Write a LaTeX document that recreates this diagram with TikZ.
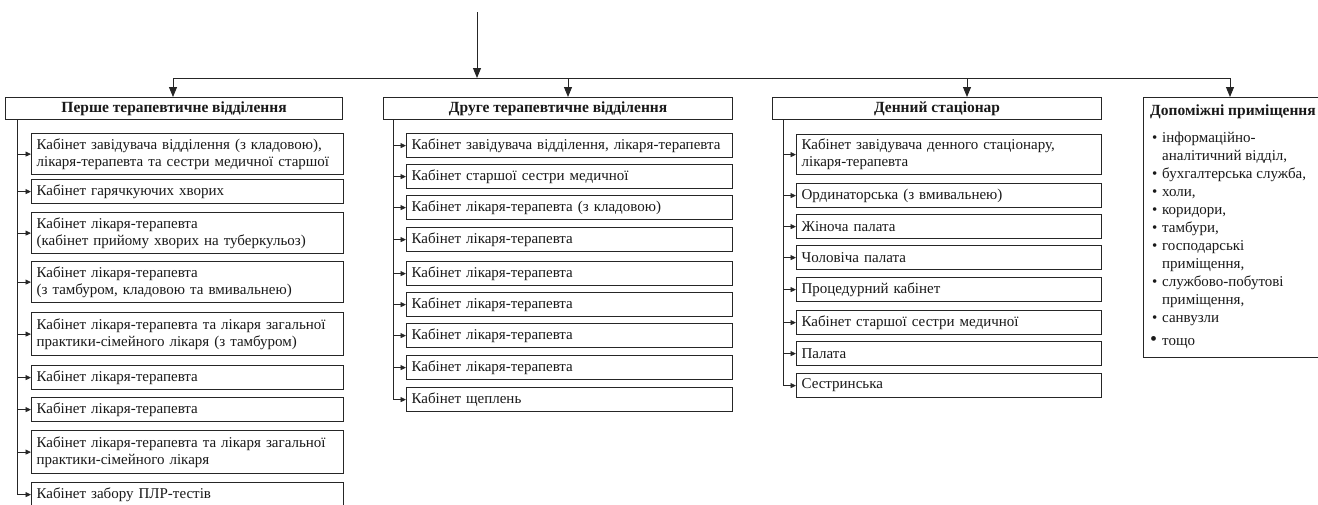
\documentclass[tikz,border=0pt]{standalone}
\usepackage{fontspec}
\setmainfont{Liberation Serif}
\usetikzlibrary{arrows.meta}
\tikzset{
  ln/.style={draw=black!85, line width=0.9pt},
  hdr/.style={draw=black!85, line width=1.2pt, anchor=north west, inner sep=0pt, minimum height=22pt, font=\bfseries\fontsize{15.5}{17}\selectfont, text=black!90},
  room/.style={draw=black!85, line width=1.2pt, anchor=north west, inner xsep=5pt, inner ysep=0pt, align=left, font=\fontsize{15}{17}\selectfont, text=black!90},
  colA/.style={room, text width=302pt},
  colB/.style={room, text width=316pt},
  colC/.style={room, text width=295pt},
  one/.style={minimum height=24pt},
  two/.style={minimum height=41pt},
  bigarr/.style={ln, -{Triangle[length=10pt,width=8pt]}},
  smallarr/.style={ln, line width=0.8pt, -{Triangle[length=5.5pt,width=5pt]}},
  lst/.style={anchor=base west, inner sep=0pt, font=\fontsize{15}{17}\selectfont, text=black!90},
}
\newcommand\bul{\makebox[10pt][l]{•}}
\begin{document}
\begin{tikzpicture}[x=1pt,y=-1pt]
\useasboundingbox (0,0) rectangle (1318,504);
\fill[white] (0,0) rectangle (1318,504);

\coordinate (top) at (477,12);
\coordinate (hl) at (477,78);
\coordinate (a1) at (173,78);
\coordinate (a2) at (568,78);
\coordinate (a3) at (967,78);
\coordinate (a4) at (1230,78);

\node[hdr, minimum width=337pt] (h1) at (5,97) {Перше терапевтичне відділення};
\node[hdr, minimum width=349pt] (h2) at (383,97) {Друге терапевтичне відділення};
\node[hdr, minimum width=329pt] (h3) at (772,97) {Денний стаціонар};
\node[draw=black!85, line width=1.2pt, anchor=north west, minimum width=190pt, minimum height=260pt, inner sep=0pt] (h4) at (1143,97) {};

\draw[bigarr] (top) -- (hl);
\draw[ln] (a1) -- (a4);
\foreach \a/\h in {a1/h1,a2/h2,a3/h3,a4/h4} \draw[bigarr] (\a) -- (\a |- \h.north);

% column 1
\node[colA, two] (r11) at (31,133) {Кабінет завідувача відділення (з кладовою),\\лікаря-терапевта та сестри медичної старшої};
\node[colA, one] (r12) at (31,179) {Кабінет гарячкуючих хворих};
\node[colA, two] (r13) at (31,212) {Кабінет лікаря-терапевта\\(кабінет прийому хворих на туберкульоз)};
\node[colA, two] (r14) at (31,261) {Кабінет лікаря-терапевта\\(з тамбуром, кладовою та вмивальнею)};
\node[colA, minimum height=43pt] (r15) at (31,312) {Кабінет лікаря-терапевта та лікаря загальної\\практики-сімейного лікаря (з тамбуром)};
\node[colA, one] (r16) at (31,365) {Кабінет лікаря-терапевта};
\node[colA, one] (r17) at (31,397) {Кабінет лікаря-терапевта};
\node[colA, minimum height=43pt] (r18) at (31,430) {Кабінет лікаря-терапевта та лікаря загальної\\практики-сімейного лікаря};
\node[colA, one] (r19) at (31,482) {Кабінет забору ПЛР-тестів};
\coordinate (t1) at (17,119);
\draw[smallarr] (t1) |- (r19.west);
\foreach \r in {r11,r12,r13,r14,r15,r16,r17,r18} \draw[smallarr] (t1 |- \r.west) -- (\r.west);

% column 2
\node[colB, one] (r21) at (406,133) {Кабінет завідувача відділення, лікаря-терапевта};
\node[colB, one] (r22) at (406,164) {Кабінет старшої сестри медичної};
\node[colB, one] (r23) at (406,195) {Кабінет лікаря-терапевта (з кладовою)};
\node[colB, one] (r24) at (406,227) {Кабінет лікаря-терапевта};
\node[colB, one] (r25) at (406,261) {Кабінет лікаря-терапевта};
\node[colB, one] (r26) at (406,292) {Кабінет лікаря-терапевта};
\node[colB, one] (r27) at (406,323) {Кабінет лікаря-терапевта};
\node[colB, one] (r28) at (406,355) {Кабінет лікаря-терапевта};
\node[colB, one] (r29) at (406,387) {Кабінет щеплень};
\coordinate (t2) at (393,119);
\draw[smallarr] (t2) |- (r29.west);
\foreach \r in {r21,r22,r23,r24,r25,r26,r27,r28} \draw[smallarr] (t2 |- \r.west) -- (\r.west);

% column 3
\node[colC, minimum height=40pt] (r31) at (796,134) {Кабінет завідувача денного стаціонару,\\лікаря-терапевта};
\node[colC, one] (r32) at (796,183) {Ординаторська (з вмивальнею)};
\node[colC, one] (r33) at (796,214) {Жіноча палата};
\node[colC, one] (r34) at (796,245) {Чоловіча палата};
\node[colC, one] (r35) at (796,277) {Процедурний кабінет};
\node[colC, one] (r36) at (796,310) {Кабінет старшої сестри медичної};
\node[colC, one] (r37) at (796,341) {Палата};
\node[colC, one] (r38) at (796,373) {Сестринська};
\coordinate (t3) at (783,119);
\draw[smallarr] (t3) |- (r38.west);
\foreach \r in {r31,r32,r33,r34,r35,r36,r37} \draw[smallarr] (t3 |- \r.west) -- (\r.west);

% column 4
\node[lst, font=\bfseries\fontsize{15.5}{17}\selectfont] (d0) at (1150,115) {Допоміжні приміщення};
\node[lst] (d1) at (1152,142.5) {\bul інформаційно-};
\node[lst] (d2) at (1162,160.5) {аналітичний відділ,};
\node[lst] (d3) at (1152,178.5) {\bul бухгалтерська служба,};
\node[lst] (d4) at (1152,196.5) {\bul холи,};
\node[lst] (d5) at (1152,214.5) {\bul коридори,};
\node[lst] (d6) at (1152,232.5) {\bul тамбури,};
\node[lst] (d7) at (1152,250.5) {\bul господарські};
\node[lst] (d8) at (1162,268.5) {приміщення,};
\node[lst] (d9) at (1152,286.5) {\bul службово-побутові};
\node[lst] (d10) at (1162,304.5) {приміщення,};
\node[lst] (d11) at (1152,322.5) {\bul санвузли};
\node[lst] (d12) at (1150,345) {\makebox[12pt][l]{\fontsize{20}{20}\selectfont•}тощо};
\end{tikzpicture}
\end{document}
